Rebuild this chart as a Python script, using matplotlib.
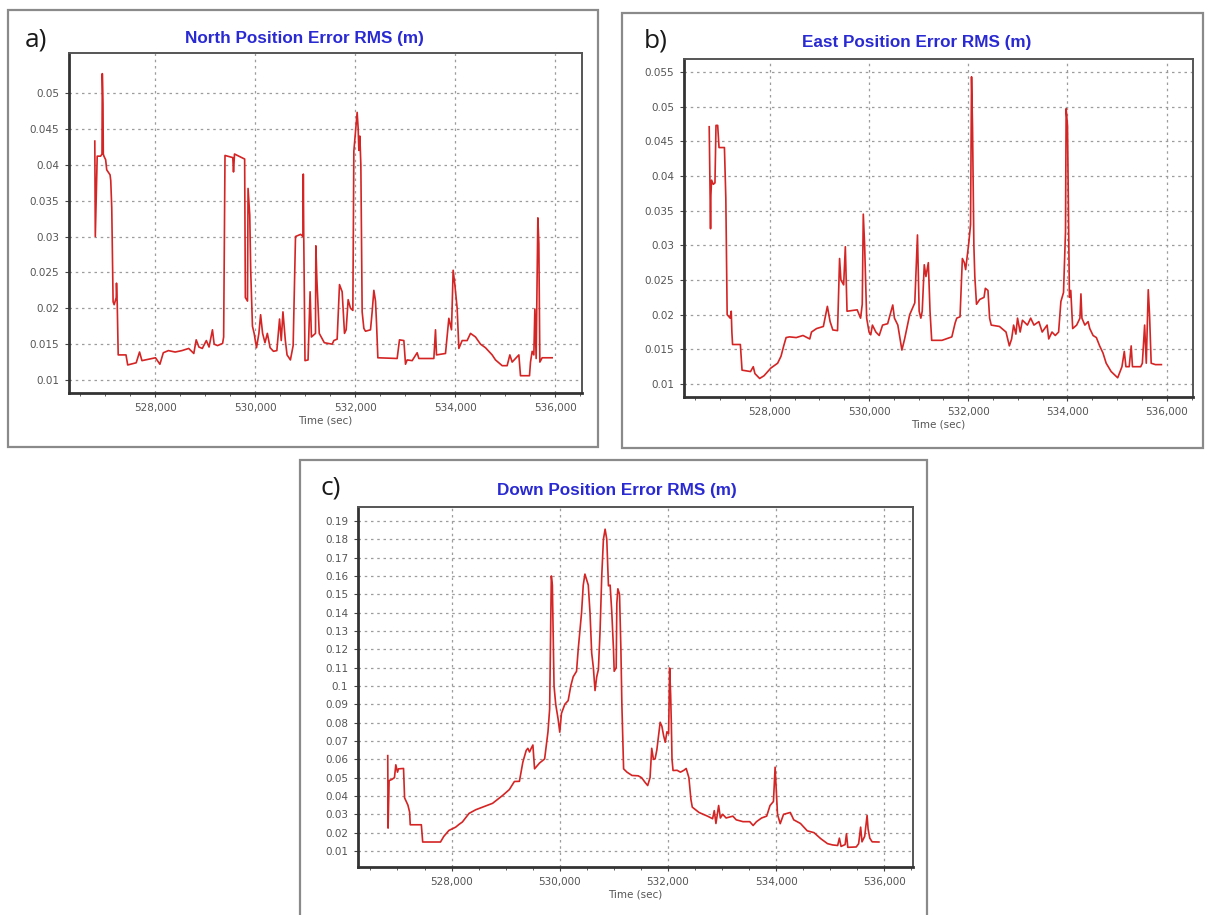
import matplotlib
matplotlib.use("Agg")
import matplotlib.pyplot as plt
from matplotlib.patches import Rectangle
from matplotlib.ticker import FixedLocator, MultipleLocator, FuncFormatter

# ---- north position error RMS ----
north_t = [526786, 526796, 526834, 526902, 526930, 526936, 526950, 526956, 526969, 527003,
           527024, 527091, 527105, 527125, 527152, 527173, 527215, 527220, 527235, 527254,
           527410, 527444, 527614, 527681, 527729, 528000, 528088, 528156, 528258, 528393,
           528529, 528664, 528766, 528814, 528868, 528936, 529017, 529071, 529139, 529173,
           529241, 529342, 529363, 529390, 529546, 529560, 529580, 529783, 529797, 529840,
           529851, 529885, 529905, 529939, 529973, 530020, 530068, 530102, 530142, 530190,
           530237, 530292, 530359, 530427, 530481, 530515, 530549, 530597, 530631, 530698,
           530753, 530800, 530902, 530950, 530956, 530965, 530990, 531051, 531092, 531119,
           531200, 531207, 531227, 531275, 531376, 531533, 531567, 531633, 531680, 531733,
           531780, 531813, 531853, 531900, 531947, 531967, 532033, 532053, 532067, 532087,
           532107, 532120, 532133, 532167, 532200, 532300, 532333, 532367, 532400, 532420,
           532447, 532833, 532880, 532967, 533000, 533033, 533133, 533233, 533267, 533567,
           533600, 533620, 533800, 533867, 533920, 533953, 533987, 534033, 534067, 534133,
           534233, 534300, 534400, 534500, 534600, 534733, 534800, 534933, 535033, 535087,
           535133, 535200, 535267, 535300, 535480, 535500, 535533, 535567, 535587, 535613,
           535647, 535667, 535687, 535733, 535933]
north_v = [0.0433, 0.0300, 0.0412, 0.0412, 0.0415, 0.0527, 0.0484, 0.0415, 0.0412, 0.0407,
           0.0393, 0.0386, 0.0378, 0.0340, 0.0209, 0.0205, 0.0215, 0.0235, 0.0205, 0.0135,
           0.0135, 0.0121, 0.0124, 0.0139, 0.0127, 0.0131, 0.0122, 0.0138, 0.0141, 0.0139,
           0.0141, 0.0144, 0.0137, 0.0156, 0.0146, 0.0144, 0.0155, 0.0146, 0.0170, 0.0150,
           0.0148, 0.0151, 0.0160, 0.0413, 0.0410, 0.0390, 0.0415, 0.0408, 0.0215, 0.0210,
           0.0367, 0.0330, 0.0250, 0.0175, 0.0165, 0.0145, 0.0165, 0.0191, 0.0165, 0.0152,
           0.0165, 0.0145, 0.0140, 0.0141, 0.0185, 0.0155, 0.0195, 0.0155, 0.0135, 0.0128,
           0.0148, 0.0300, 0.0303, 0.0300, 0.0387, 0.0300, 0.0127, 0.0128, 0.0223, 0.0160,
           0.0165, 0.0287, 0.0241, 0.0165, 0.0152, 0.0150, 0.0155, 0.0157, 0.0233, 0.0223,
           0.0165, 0.0170, 0.0212, 0.0200, 0.0197, 0.0419, 0.0473, 0.0451, 0.0420, 0.0440,
           0.0400, 0.0300, 0.0195, 0.0172, 0.0168, 0.0170, 0.0195, 0.0225, 0.0210, 0.0180,
           0.0131, 0.0130, 0.0156, 0.0155, 0.0122, 0.0128, 0.0127, 0.0138, 0.0130, 0.0130,
           0.0170, 0.0135, 0.0137, 0.0186, 0.0170, 0.0253, 0.0233, 0.0200, 0.0144, 0.0155,
           0.0155, 0.0165, 0.0160, 0.0150, 0.0145, 0.0135, 0.0128, 0.0120, 0.0120, 0.0135,
           0.0125, 0.0130, 0.0135, 0.0106, 0.0106, 0.0125, 0.0140, 0.0135, 0.0199, 0.0130,
           0.0326, 0.0290, 0.0125, 0.0131, 0.0131]

# ---- east position error RMS ----
east_t = [526778, 526805, 526812, 526826, 526860, 526894, 526915, 526949, 526976, 527085,
          527113, 527140, 527201, 527222, 527235, 527249, 527406, 527440, 527611, 527666,
          527700, 527795, 527884, 528020, 528157, 528225, 528280, 528328, 528396, 528532,
          528669, 528805, 528840, 528942, 529079, 529160, 529215, 529270, 529365, 529406,
          529433, 529488, 529522, 529556, 529761, 529829, 529863, 529884, 529911, 529952,
          530000, 530034, 530068, 530137, 530205, 530273, 530375, 530478, 530512, 530580,
          530662, 530717, 530819, 530922, 530976, 531010, 531044, 531072, 531113, 531147,
          531195, 531229, 531263, 531470, 531669, 531735, 531768, 531834, 531881, 531921,
          531947, 531980, 532013, 532046, 532066, 532086, 532113, 532132, 532166, 532232,
          532318, 532344, 532397, 532430, 532463, 532629, 532761, 532828, 532874, 532914,
          532960, 532993, 533046, 533092, 533192, 533258, 533324, 533423, 533490, 533589,
          533622, 533688, 533754, 533821, 533867, 533920, 533960, 533973, 534000, 534019,
          534039, 534066, 534105, 534185, 534251, 534271, 534291, 534350, 534416, 534449,
          534516, 534582, 534648, 534714, 534780, 534880, 535012, 535098, 535145, 535178,
          535244, 535284, 535310, 535476, 535509, 535555, 535588, 535628, 535654, 535687,
          535773, 535893]
east_v = [0.0471, 0.0324, 0.0372, 0.0394, 0.0388, 0.0390, 0.0473, 0.0473, 0.0441, 0.0441,
          0.0368, 0.0200, 0.0195, 0.0205, 0.0175, 0.0157, 0.0157, 0.0120, 0.0118, 0.0125,
          0.0115, 0.0108, 0.0112, 0.0123, 0.0130, 0.0140, 0.0155, 0.0167, 0.0168, 0.0167,
          0.0170, 0.0165, 0.0175, 0.0180, 0.0183, 0.0212, 0.0190, 0.0178, 0.0177, 0.0281,
          0.0250, 0.0243, 0.0298, 0.0205, 0.0207, 0.0195, 0.0215, 0.0345, 0.0300, 0.0195,
          0.0175, 0.0171, 0.0185, 0.0175, 0.0170, 0.0185, 0.0187, 0.0214, 0.0195, 0.0185,
          0.0149, 0.0165, 0.0200, 0.0217, 0.0315, 0.0205, 0.0195, 0.0205, 0.0272, 0.0255,
          0.0275, 0.0205, 0.0163, 0.0163, 0.0168, 0.0188, 0.0195, 0.0197, 0.0281, 0.0275,
          0.0265, 0.0285, 0.0305, 0.0330, 0.0543, 0.0470, 0.0300, 0.0255, 0.0215, 0.0222,
          0.0225, 0.0238, 0.0235, 0.0195, 0.0185, 0.0183, 0.0175, 0.0155, 0.0165, 0.0185,
          0.0172, 0.0195, 0.0175, 0.0192, 0.0185, 0.0195, 0.0185, 0.0190, 0.0175, 0.0185,
          0.0165, 0.0175, 0.0170, 0.0175, 0.0219, 0.0232, 0.0320, 0.0497, 0.0473, 0.0350,
          0.0225, 0.0235, 0.0180, 0.0185, 0.0195, 0.0230, 0.0195, 0.0185, 0.0190, 0.0180,
          0.0170, 0.0167, 0.0155, 0.0145, 0.0130, 0.0118, 0.0109, 0.0125, 0.0147, 0.0125,
          0.0125, 0.0155, 0.0125, 0.0125, 0.0130, 0.0185, 0.0130, 0.0236, 0.0200, 0.0130,
          0.0128, 0.0128]

# ---- down position error RMS ----
down_t = [526820, 526826, 526845, 526895, 526944, 526969, 527000, 527019, 527112, 527131,
          527193, 527224, 527236, 527441, 527466, 527795, 527857, 527950, 528075, 528137,
          528199, 528323, 528447, 528571, 528758, 528944, 529068, 529161, 529254, 529317,
          529379, 529410, 529441, 529472, 529503, 529534, 529627, 529720, 529782, 529813,
          529832, 529844, 529863, 529894, 529925, 529969, 530000, 530031, 530093, 530155,
          530205, 530248, 530310, 530341, 530372, 530403, 530434, 530465, 530496, 530527,
          530559, 530590, 530621, 530652, 530683, 530714, 530745, 530776, 530807, 530838,
          530869, 530900, 530931, 530962, 530993, 531006, 531043, 531055, 531074, 531105,
          531130, 531148, 531180, 531242, 531335, 531450, 531512, 531575, 531625, 531669,
          531700, 531731, 531762, 531794, 531856, 531888, 531919, 531950, 531981, 532012,
          532031, 532050, 532062, 532075, 532094, 532169, 532231, 532294, 532337, 532387,
          532425, 532450, 532575, 532731, 532825, 532856, 532887, 532937, 532969, 533012,
          533075, 533200, 533262, 533387, 533512, 533575, 533637, 533731, 533825, 533887,
          533950, 533981, 534000, 534025, 534075, 534137, 534262, 534325, 534450, 534575,
          534700, 534825, 534950, 535044, 535137, 535169, 535200, 535275, 535300, 535325,
          535481, 535525, 535562, 535587, 535637, 535681, 535700, 535731, 535775, 535900]
down_v = [0.0620, 0.0225, 0.0484, 0.0490, 0.0500, 0.0570, 0.0530, 0.0548, 0.0550, 0.0390,
          0.0350, 0.0312, 0.0243, 0.0243, 0.0149, 0.0149, 0.0180, 0.0212, 0.0230, 0.0245,
          0.0258, 0.0305, 0.0325, 0.0339, 0.0360, 0.0403, 0.0435, 0.0479, 0.0480, 0.0584,
          0.0648, 0.0660, 0.0640, 0.0660, 0.0678, 0.0548, 0.0580, 0.0602, 0.0750, 0.0875,
          0.1350, 0.1600, 0.1550, 0.1000, 0.0900, 0.0820, 0.0748, 0.0850, 0.0900, 0.0920,
          0.1002, 0.1050, 0.1080, 0.1200, 0.1300, 0.1400, 0.1550, 0.1610, 0.1580, 0.1550,
          0.1400, 0.1180, 0.1100, 0.0975, 0.1050, 0.1090, 0.1300, 0.1600, 0.1800, 0.1855,
          0.1800, 0.1546, 0.1550, 0.1400, 0.1200, 0.1080, 0.1100, 0.1450, 0.1530, 0.1500,
          0.1200, 0.0900, 0.0548, 0.0530, 0.0512, 0.0510, 0.0500, 0.0475, 0.0457, 0.0500,
          0.0660, 0.0600, 0.0602, 0.0650, 0.0802, 0.0780, 0.0730, 0.0693, 0.0750, 0.0740,
          0.1098, 0.0950, 0.0800, 0.0600, 0.0539, 0.0540, 0.0530, 0.0540, 0.0550, 0.0500,
          0.0380, 0.0339, 0.0310, 0.0290, 0.0276, 0.0320, 0.0250, 0.0348, 0.0280, 0.0300,
          0.0280, 0.0290, 0.0270, 0.0260, 0.0260, 0.0239, 0.0260, 0.0280, 0.0290, 0.0348,
          0.0370, 0.0557, 0.0450, 0.0300, 0.0249, 0.0300, 0.0310, 0.0270, 0.0250, 0.0210,
          0.0200, 0.0167, 0.0140, 0.0133, 0.0130, 0.0170, 0.0125, 0.0135, 0.0194, 0.0120,
          0.0122, 0.0140, 0.0230, 0.0150, 0.0180, 0.0294, 0.0220, 0.0170, 0.0150, 0.0149]

north_yticks = [0.01, 0.015, 0.02, 0.025, 0.03, 0.035, 0.04, 0.045, 0.05]
east_yticks = [0.01, 0.015, 0.02, 0.025, 0.03, 0.035, 0.04, 0.045, 0.05, 0.055]
down_yticks = [round(0.01 * k, 2) for k in range(1, 20)]
time_ticks = [528000, 530000, 532000, 534000, 536000]

W, H = 1205, 915
fig = plt.figure(figsize=(W / 100, H / 100), dpi=100)
fig.patch.set_facecolor("white")

LINE = "#d42424"
TITLE_BLUE = "#2a2ad2"
TITLE_FONT = "Liberation Sans"
TICK_FONT = "DejaVu Sans"


def px_box(x0, y0, x1, y1):
    # pixel box (top-left origin) -> figure fraction rect
    return [x0 / W, 1 - y1 / H, (x1 - x0) / W, (y1 - y0) / H]


def frame(x0, y0, x1, y1):
    r = Rectangle((x0 / W, 1 - y1 / H), (x1 - x0) / W, (y1 - y0) / H,
                  transform=fig.transFigure, fill=False,
                  edgecolor="#8a8a8a", lw=1.6)
    fig.add_artist(r)


def panel(box, t, v, yticks, ylim, title, title_xy, tag, tag_xy):
    ax = fig.add_axes(px_box(*box))
    ax.plot(t, v, color=LINE, lw=1.2)
    ax.set_xlim(526270, 536530)
    ax.set_ylim(*ylim)
    ax.xaxis.set_major_locator(FixedLocator(time_ticks))
    ax.xaxis.set_minor_locator(MultipleLocator(500))
    ax.yaxis.set_major_locator(FixedLocator(yticks))
    ax.xaxis.set_major_formatter(FuncFormatter(lambda x, p: "{:,.0f}".format(x)))
    ax.yaxis.set_major_formatter(FuncFormatter(lambda y, p: "{:g}".format(round(y, 3))))
    ax.grid(True, which="major", linestyle=(0, (2, 3)), color="#9c9c9c", lw=0.9)
    ax.tick_params(which="both", direction="out", colors="#444444",
                   labelcolor="#555555", labelsize=7.5)
    ax.tick_params(which="major", length=3, pad=4)
    ax.tick_params(which="minor", length=2)
    for lab in ax.get_xticklabels() + ax.get_yticklabels():
        lab.set_fontfamily(TICK_FONT)
    for side in ["left", "bottom"]:
        ax.spines[side].set_color("#333333")
        ax.spines[side].set_linewidth(2.0)
    for side in ["top", "right"]:
        ax.spines[side].set_color("#555555")
        ax.spines[side].set_linewidth(1.4)
    ax.set_xlabel("Time (sec)", fontsize=7.5, color="#555555",
                  family=TICK_FONT, labelpad=2)
    fig.text(title_xy[0] / W, 1 - title_xy[1] / H, title, ha="center",
             va="center", color=TITLE_BLUE, fontsize=12.3, fontweight="bold",
             family=TITLE_FONT)
    fig.text(tag_xy[0] / W, 1 - tag_xy[1] / H, tag, ha="left", va="center",
             color="#1a1a1a", fontsize=19, family="Open Sans")
    return ax


frame(8, 10, 598, 447)
frame(622, 13, 1203, 448)
frame(300, 460, 927, 920)

panel((69, 53, 582, 393), north_t, north_v, north_yticks, (0.00819, 0.05558),
      "North Position Error RMS (m)", (304, 38), "a)", (25, 40))
panel((684, 59, 1193, 397), east_t, east_v, east_yticks, (0.00813, 0.05687),
      "East Position Error RMS (m)", (917, 42), "b)", (644, 41))
panel((358, 507, 913, 867), down_t, down_v, down_yticks, (0.00127, 0.1976),
      "Down Position Error RMS (m)", (617, 490), "c)", (320, 488))

fig.savefig("out.png", dpi=100, facecolor="white")
